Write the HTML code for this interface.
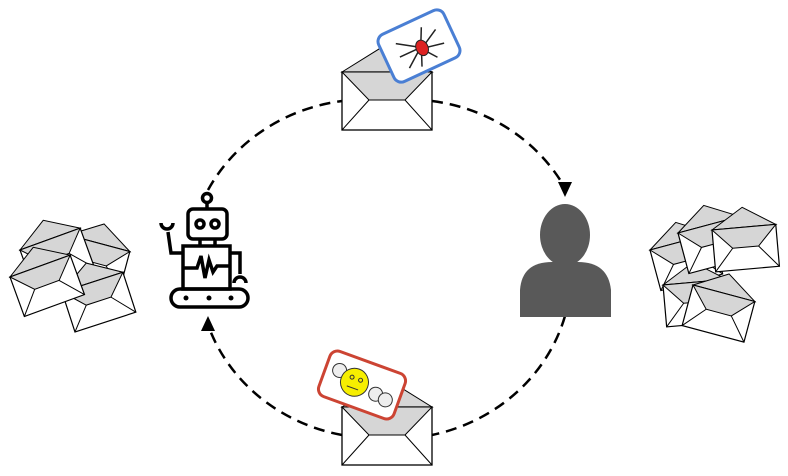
<!DOCTYPE html>
<html><head><style>html,body{margin:0;padding:0;background:#fff}svg{display:block}</style></head><body>
<svg width="788" height="476" viewBox="0 0 788 476" xmlns="http://www.w3.org/2000/svg">
<defs>
<g id="env">
<polygon points="0,0 45,-28 90,0" fill="#d6d6d6" stroke="#000" stroke-width="1"/>
<rect x="0" y="0" width="90" height="58" fill="#fff" stroke="#000" stroke-width="1.3"/>
<polygon points="0,0 27,28 63,28 90,0" fill="#d6d6d6" stroke="#000" stroke-width="1"/>
<line x1="0" y1="58" x2="27" y2="28" stroke="#000"/>
<line x1="90" y1="58" x2="63" y2="28" stroke="#000"/>
</g>
<g id="senv">
<polygon points="0,0 32,-20 64,0" fill="#d6d6d6" stroke="#000" stroke-width="1"/>
<rect x="0" y="0" width="64" height="42" fill="#fff" stroke="#000" stroke-width="1.2"/>
<polygon points="0,0 19,20 45,20 64,0" fill="#d6d6d6" stroke="#000" stroke-width="1"/>
<line x1="0" y1="42" x2="19" y2="20" stroke="#000"/>
<line x1="64" y1="42" x2="45" y2="20" stroke="#000"/>
</g>
</defs>
<g fill="none" stroke="#000" stroke-width="2.5" stroke-dasharray="11 7">
<path d="M208,190 A178,167 0 0 1 342,101"/>
<path d="M432,101 A178,167 0 0 1 565,188"/>
<path d="M565,316 A178,167 0 0 1 432,435"/>
<path d="M342,435 A178,167 0 0 1 208,325"/>
</g>
<polygon points="558,182 572,182 565,197" fill="#000"/>
<polygon points="201,331 215,331 208,316" fill="#000"/>

<use href="#env" x="342" y="72"/>
<use href="#env" x="342" y="407"/>

<g transform="translate(419,46) rotate(-25)">
<rect x="-36" y="-26" width="72" height="52" rx="8" fill="#fff" stroke="#4a7fd4" stroke-width="3"/>
<g stroke="#222" stroke-width="1.5" fill="none">
<path d="M-2,0 L-20,-12 M-2,2 L-22,2 M-2,4 L-18,16 M2,0 L10,-16 M4,2 L22,-8 M4,4 L24,8 M3,6 L12,18 M0,6 L-6,20"/>
</g>
<ellipse cx="2" cy="3" rx="6" ry="8" fill="#d22" stroke="#222"/>
</g>

<g transform="translate(362,385) rotate(20)">
<rect x="-40" y="-24" width="80" height="48" rx="8" fill="#fff" stroke="#cc4433" stroke-width="3"/>
<circle cx="-26" cy="-6" r="7" fill="#eee" stroke="#333"/>
<circle cx="16" cy="4" r="7" fill="#eee" stroke="#333"/>
<circle cx="27" cy="6" r="7" fill="#eee" stroke="#333"/>
<circle cx="-8" cy="0" r="14" fill="#f6ee00" stroke="#333"/>
<circle cx="-12" cy="-4" r="2" fill="none" stroke="#333"/>
<circle cx="-3" cy="-4" r="2" fill="none" stroke="#333"/>
<line x1="-14" y1="6" x2="-2" y2="6" stroke="#333"/>
</g>

<!-- robot -->
<g fill="none" stroke="#000" stroke-width="3.5">
<circle cx="207" cy="198" r="4.5"/>
<line x1="207" y1="202" x2="207" y2="209"/>
<rect x="188" y="209" width="39" height="30" rx="5"/>
<circle cx="200" cy="224" r="4"/><circle cx="215" cy="224" r="4"/>
<line x1="200" y1="239" x2="200" y2="246"/><line x1="215" y1="239" x2="215" y2="246"/>
<rect x="183" y="246" width="47" height="43"/>
<polyline points="183,268 197,268 201,256 205,278 209,260 213,272 217,266 230,266"/>
<polyline points="183,253 171,253 168,232"/>
<path d="M161,223 A6,6 0 0 0 173,223"/>
<polyline points="230,253 240,253 240,274"/>
<path d="M234,283 A6,6 0 0 1 246,283"/>
<rect x="171" y="289" width="77" height="18" rx="9"/>
</g>
<circle cx="186" cy="298" r="2.5"/><circle cx="209" cy="298" r="2.5"/><circle cx="231" cy="298" r="2.5"/>

<!-- person -->
<g fill="#595959">
<ellipse cx="565" cy="235" rx="25" ry="31"/>
<path d="M520,317 L520,290 Q522,262 552,262 L578,262 Q608,262 611,290 L611,317 Z"/>
</g>

<!-- left pile -->
<use href="#senv" transform="translate(68,235) rotate(15)"/>
<use href="#senv" transform="translate(20,250) rotate(-20)"/>
<use href="#senv" transform="translate(62,292) rotate(-18)"/>
<use href="#senv" transform="translate(10,277) rotate(-20)"/>

<!-- right pile -->
<use href="#senv" transform="translate(650,250) rotate(-15)"/>
<use href="#senv" transform="translate(663,285) rotate(-5)"/>
<use href="#senv" transform="translate(678,233) rotate(-15)"/>
<use href="#senv" transform="translate(712,230) rotate(-5)"/>
<use href="#senv" transform="translate(693,285) rotate(15)"/>
</svg>
</body></html>
